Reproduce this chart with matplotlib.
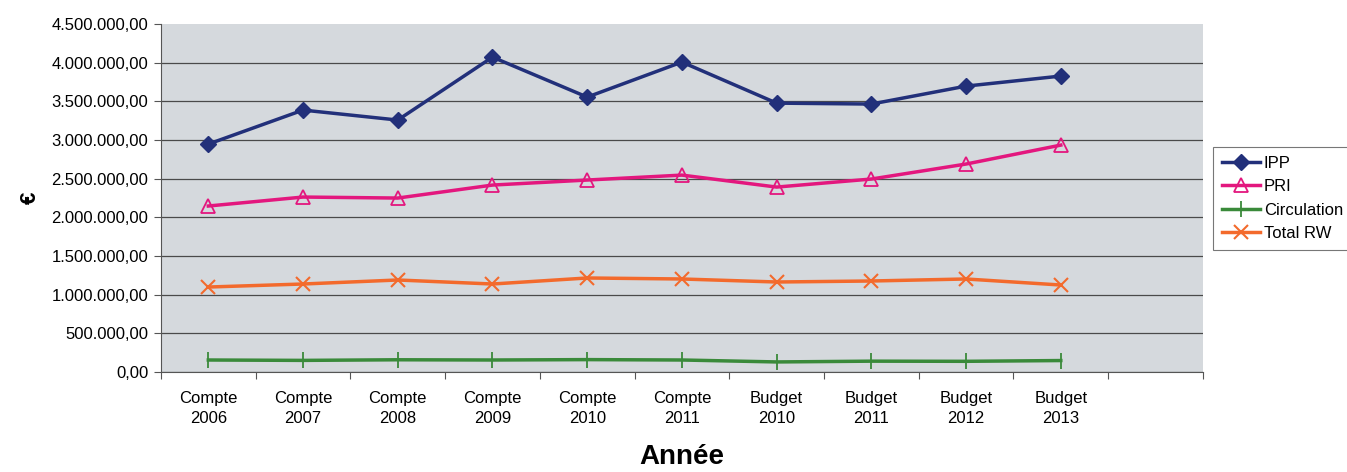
import numpy as np
import matplotlib
matplotlib.use("Agg")
import matplotlib.pyplot as plt
from matplotlib.ticker import FuncFormatter

plt.rcParams['font.family'] = ['Liberation Sans', 'DejaVu Sans']

# Data
categories = ["Compte\n2006", "Compte\n2007", "Compte\n2008", "Compte\n2009", "Compte\n2010",
              "Compte\n2011", "Budget\n2010", "Budget\n2011", "Budget\n2012", "Budget\n2013"]
ipp = [2948000, 3388000, 3259000, 4073000, 3556000, 4009000, 3478000, 3466000, 3698000, 3828000]
pri = [2147000, 2263000, 2250000, 2418000, 2483000, 2547000, 2392000, 2496000, 2690000, 2935000]
circulation = [155000, 150000, 158000, 155000, 160000, 155000, 130000, 140000, 138000, 148000]
total_rw = [1099000, 1138000, 1190000, 1138000, 1216000, 1203000, 1164000, 1177000, 1203000, 1125000]

y_ticks = np.arange(0, 4500001, 500000)


def euro_fmt(v, pos):
    s = f"{v:,.2f}"
    return s.replace(",", " ").replace(".", ",").replace(" ", ".")


fig = plt.figure(figsize=(13.47, 4.72), dpi=100)
ax = fig.add_axes([0.1195, 0.2119, 0.7735, 0.737])
ax.set_facecolor("#d5d9dd")

x = np.arange(len(categories))

ax.plot(x, ipp, color="#22307a", lw=2.5, marker="D", ms=8.5, label="IPP")
ax.plot(x, pri, color="#e3177e", lw=2.5, marker="^", ms=9.5, mfc="none", mew=1.3, label="PRI")
ax.plot(x, circulation, color="#3a8a3a", lw=2.5, marker="|", ms=12, mew=1.3, label="Circulation")
ax.plot(x, total_rw, color="#f36a2c", lw=2.5, marker="x", ms=10, mew=1.5, label="Total RW")

ax.set_xlim(-0.5, len(categories) + 0.5)
ax.set_ylim(0, 4500000)
ax.set_yticks(y_ticks)
ax.yaxis.set_major_formatter(FuncFormatter(euro_fmt))
ax.yaxis.grid(True, color="#4a4a4a", lw=0.9)
ax.get_ygridlines()[-1].set_visible(False)
ax.set_axisbelow(True)

# category labels between boundary ticks
ax.set_xticks(np.arange(-0.5, len(categories) + 1, 1))
ax.set_xticklabels([])
ax.set_xticks(x, minor=True)
ax.set_xticklabels(categories, minor=True, fontsize=12, linespacing=1.4)
ax.tick_params(axis="x", which="minor", length=0, pad=14)
ax.tick_params(axis="x", which="major", length=5, color="#555555")
ax.tick_params(axis="y", length=5, color="#555555", labelsize=12, pad=4)

for s in ["top", "right"]:
    ax.spines[s].set_visible(False)
for s in ["left", "bottom"]:
    ax.spines[s].set_color("#555555")

ax.set_ylabel("€", fontsize=16, fontweight="bold", labelpad=8)
ax.set_xlabel("Année", fontsize=20, fontweight="bold", labelpad=13)

leg = ax.legend(loc="upper left", bbox_to_anchor=(0.9005, 0.689), bbox_transform=fig.transFigure,
                fontsize=12, frameon=True, fancybox=False, edgecolor="#555555",
                handlelength=2.3, handletextpad=0.2, borderpad=0.55, labelspacing=0.5,
                borderaxespad=0)
leg.get_frame().set_linewidth(0.8)

fig.savefig("out.png", dpi=100)
